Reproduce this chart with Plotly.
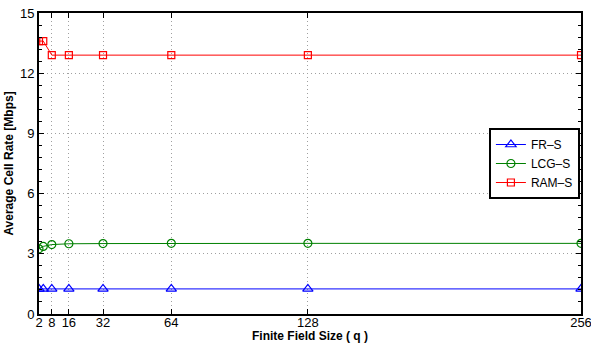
import plotly.graph_objects as go

q = [2, 4, 8, 16, 32, 64, 128, 256]
fr_s = [1.25, 1.25, 1.25, 1.25, 1.25, 1.25, 1.25, 1.25]
lcg_s = [3.25, 3.37, 3.46, 3.5, 3.51, 3.52, 3.52, 3.52]
ram_s = [13.6, 13.6, 12.9, 12.9, 12.9, 12.9, 12.9, 12.9]
x_ticks = [2, 8, 16, 32, 64, 128, 256]
y_ticks = [0, 3, 6, 9, 12, 15]

fig = go.Figure()
fig.add_trace(go.Scatter(x=q, y=fr_s, mode="lines+markers", name="FR–S",
                         line=dict(color="#0000ff", width=1),
                         marker=dict(symbol="triangle-up-open", size=9, color="#0000ff", line=dict(width=1.2))))
fig.add_trace(go.Scatter(x=q, y=lcg_s, mode="lines+markers", name="LCG–S",
                         line=dict(color="#008000", width=1),
                         marker=dict(symbol="circle-open", size=8, color="#008000", line=dict(width=1.2))))
fig.add_trace(go.Scatter(x=q, y=ram_s, mode="lines+markers", name="RAM–S",
                         line=dict(color="#ff0000", width=1),
                         marker=dict(symbol="square-open", size=7, color="#ff0000", line=dict(width=1.2))))

fig.update_layout(
    width=591, height=345,
    margin=dict(l=39, r=10, t=13, b=31),
    paper_bgcolor="white", plot_bgcolor="white",
    font=dict(family="Liberation Sans, Arial, sans-serif", size=13, color="black"),
    showlegend=True,
    legend=dict(x=0.998, xanchor="right", y=0.5, yanchor="middle",
                bordercolor="black", borderwidth=2, bgcolor="white",
                font=dict(size=12), tracegroupgap=0, itemwidth=30),
    annotations=[dict(text="<b>Finite Field Size ( q )</b>", xref="paper", yref="paper",
                      x=0.5, y=-0.073, xanchor="center", yanchor="middle",
                      showarrow=False, font=dict(size=12))],
)
fig.update_xaxes(
    range=[2, 256], tickvals=x_ticks, ticktext=[str(v) for v in x_ticks],
    showline=True, linecolor="black", linewidth=2, mirror="allticks",
    ticks="inside", ticklen=5, tickcolor="black", tickwidth=1,
    ticklabelstandoff=-5, ticklabeloverflow="allow",
    showgrid=True, gridcolor="#a0a0a0", griddash="1px,3px", gridwidth=1,
    zeroline=False, automargin=False,
)
fig.update_yaxes(
    range=[0, 15], tickvals=y_ticks,
    showline=True, linecolor="black", linewidth=2, mirror="allticks",
    ticks="inside", ticklen=5, tickcolor="black", tickwidth=1,
    minor=dict(dtick=0.6, ticks="inside", ticklen=3, tickcolor="black", showgrid=False),
    showgrid=True, gridcolor="#a0a0a0", griddash="1px,3px", gridwidth=1,
    zeroline=False, automargin=False,
    title=dict(text="<b>Average Cell Rate [Mbps]</b>", font=dict(size=12), standoff=4),
)

fig.write_html("out.html")
